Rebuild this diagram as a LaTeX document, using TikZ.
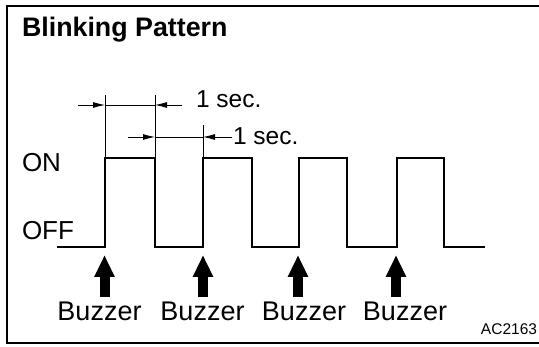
\documentclass[tikz,border=0pt]{standalone}
\usepackage{fontspec}
\setmainfont{Liberation Sans}
\usetikzlibrary{arrows.meta}

\begin{document}
\begin{tikzpicture}[
        x=1pt,
        y=-1pt,
        every node/.style={inner sep=0pt, outer sep=0pt},
        frame/.style={line width=1.8pt},
        signal/.style={line width=1.8pt, line join=miter},
        extline/.style={line width=0.8pt},
        dimline/.style={line width=0.8pt, -{Latex[length=12pt, width=6pt]}},
        buzzarrow/.style={line width=10pt, -{Triangle[length=22pt, width=19pt]}},
        level/.style={font=\fontsize{26}{26}\selectfont, anchor=base west},
        secnote/.style={font=\fontsize{24.5}{24.5}\selectfont, anchor=base west},
        buzzlabel/.style={font=\fontsize{27}{27}\selectfont, anchor=base}
    ]
    \useasboundingbox (0,0) rectangle (539,347);

    % frame (open on the right)
    \draw[frame] (539,6) -- (7,6) -- (7,343) -- (539,343);
    \node[anchor=base west, font=\bfseries\fontsize{26.8}{26.8}\selectfont] (title) at (22,37) {Blinking Pattern};
    \node[anchor=base east, font=\fontsize{15.5}{15.5}\selectfont] (code) at (537,335) {AC2163};

    % levels
    \node[level] (on) at (22,172) {ON};
    \node[level] (off) at (22,240) {OFF};

    % signal
    \draw[signal] (57,247) -- (105,247) -- (105,158) -- (155,158) -- (155,247)
        -- (203,247) -- (203,158) -- (252,158) -- (252,247)
        -- (299,247) -- (299,158) -- (347,158) -- (347,247)
        -- (397,247) -- (397,158) -- (444,158) -- (444,247) -- (485,247);

    % first 1 sec.
    \coordinate (e1) at (105,95);
    \coordinate (e2) at (155,95);
    \coordinate (e3) at (203,125);
    \draw[extline] (e1) -- (105,158);
    \draw[extline] (e2) -- (155,158);
    \draw[extline] (e3) -- (203,158);
    \coordinate (d1a) at (78,105);
    \coordinate (d1b) at (105,105);
    \coordinate (d1c) at (155,105);
    \coordinate (d1d) at (182,105);
    \draw[dimline] (d1a) -- (d1b);
    \draw[extline] (d1b) -- (d1c);
    \draw[dimline] (d1d) -- (d1c);
    \node[secnote] (sec1) at (196,108) {1 sec.};

    % second 1 sec.
    \coordinate (d2a) at (128,137);
    \coordinate (d2b) at (155,137);
    \coordinate (d2c) at (203,137);
    \coordinate (d2d) at (232,137);
    \draw[dimline] (d2a) -- (d2b);
    \draw[extline] (d2b) -- (d2c);
    \draw[dimline] (d2d) -- (d2c);
    \node[secnote] (sec2) at (233,145) {1 sec.};

    % buzzer marks
    \coordinate (b1) at (104.5,297);
    \coordinate (t1) at (104.5,255);
    \coordinate (b2) at (203,297);
    \coordinate (t2) at (203,255);
    \coordinate (b3) at (298,297);
    \coordinate (t3) at (298,255);
    \coordinate (b4) at (396,297);
    \coordinate (t4) at (396,255);
    \draw[buzzarrow] (b1) -- (t1);
    \draw[buzzarrow] (b2) -- (t2);
    \draw[buzzarrow] (b3) -- (t3);
    \draw[buzzarrow] (b4) -- (t4);
    \node[buzzlabel] (buzz1) at (99.5,321) {Buzzer};
    \node[buzzlabel] (buzz2) at (202.5,321) {Buzzer};
    \node[buzzlabel] (buzz3) at (304,321) {Buzzer};
    \node[buzzlabel] (buzz4) at (405,321) {Buzzer};
\end{tikzpicture}
\end{document}
